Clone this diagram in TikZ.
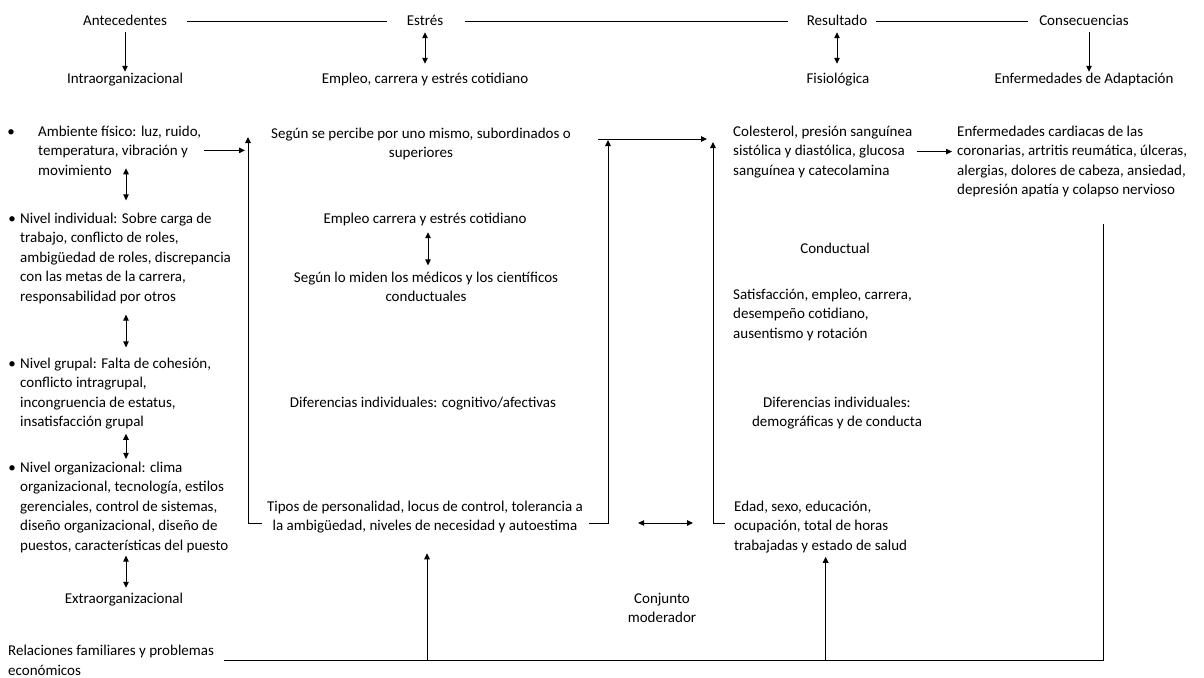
\documentclass[tikz,border=0pt]{standalone}
\usepackage{fontspec}
\setmainfont{Carlito}
\usetikzlibrary{arrows.meta,calc}
\begin{document}
\begin{tikzpicture}[x=1pt,y=-1pt,
  every node/.style={font=\fontsize{15}{19.5}\selectfont, inner sep=0pt},
  lt/.style={align=left, anchor=base west},
  ct/.style={align=center, anchor=base},
  one/.style={text height=11pt, text depth=3pt},
  ln/.style={line width=1pt, draw=black},
  arr/.style={ln, -{Triangle[length=6pt,width=5.5pt]}},
  darr/.style={ln, {Triangle[length=6pt,width=5.5pt]}-{Triangle[length=6pt,width=5.5pt]}},
  bul/.style={anchor=base}
]
\useasboundingbox (0,0) rectangle (1204,677);
\fill[white] (0,0) rectangle (1204,677);

% top row
\node[ct,one] (ante)   at (125,26)  {Antecedentes};
\node[ct,one] (estres) at (425,26)  {Estrés};
\node[ct,one] (result) at (837,26)  {Resultado};
\node[ct,one] (conse)  at (1084,26) {Consecuencias};
% second row
\node[ct,one] (intra)  at (125,83)  {Intraorganizacional};
\node[ct,one] (empleo) at (425,83)  {Empleo, carrera y estrés cotidiano};
\node[ct,one] (fisio)  at (838,83)  {Fisiológica};
\node[ct,one] (enfad)  at (1084,83) {Enfermedades de Adaptación};

\draw[ln,shorten <=20pt,shorten >=20pt] (ante.east) -- (estres.west);
\draw[ln,shorten <=22pt,shorten >=19pt] (estres.east) -- (result.west);
\draw[ln,shorten <=9pt,shorten >=11pt] (result.east) -- (conse.west);
\draw[arr,shorten <=3pt] (ante.south) -- (ante.south |- intra.north);
\draw[darr,shorten <=3pt,shorten >=8pt] (estres.south) -- (estres.south |- empleo.north);
\draw[darr,shorten <=3pt,shorten >=8pt] (result.south) -- (result.south |- fisio.north);
\draw[arr,shorten <=3pt] ($(conse.south)+(5,0)$) -- ($(conse.south |- enfad.north)+(5,0)$);

% left column (multi-line nodes are placed by the baseline of their last line)
\coordinate (colL) at (126,0);
\node[bul] (b1) at (11,136) {•};
\node[lt] (amb) at (38,175) {Ambiente físico: luz, ruido,\\temperatura, vibración y\\movimiento};
\node[bul] (b2) at (12,223) {•};
\node[lt] (ind) at (20,301) {Nivel individual: Sobre carga de\\trabajo, conflicto de roles,\\ambigüedad de roles, discrepancia\\con las metas de la carrera,\\responsabilidad por otros};
\node[bul] (b3) at (12,368) {•};
\node[lt] (grup) at (20,426.5) {Nivel grupal: Falta de cohesión,\\conflicto intragrupal,\\incongruencia de estatus,\\insatisfacción grupal};
\node[bul] (b4) at (12,472) {•};
\node[lt] (org) at (20,550) {Nivel organizacional: clima\\organizacional, tecnología, estilos\\gerenciales, control de sistemas,\\diseño organizacional, diseño de\\puestos, características del puesto};
\node[ct,one] (extra) at (124,603) {Extraorganizacional};
\node[lt] (rel) at (8,675) {Relaciones familiares y problemas\\económicos};

\draw[darr,shorten <=-7pt,shorten >=12pt] (amb.south -| colL) -- (ind.north -| colL);
\draw[darr,shorten <=11pt,shorten >=10pt] (ind.south -| colL) -- (grup.north -| colL);
\draw[darr,shorten <=4.5pt,shorten >=2.5pt] (grup.south -| colL) -- (org.north -| colL);
\draw[darr,shorten <=3pt,shorten >=4pt] (org.south -| colL) -- (extra.north -| colL);

% middle column
\node[ct] (segun) at (421,157.5) {Según se percibe por uno mismo, subordinados o\\superiores};
\node[ct,one] (empc) at (425,223) {Empleo carrera y estrés cotidiano};
\node[ct] (miden) at (426,301.5) {Según lo miden los médicos y los científicos\\conductuales};
\node[ct,one] (difc) at (423,407) {Diferencias individuales: cognitivo/afectivas};
\node[ct] (tipos) at (425,530.5) {Tipos de personalidad, locus de control, tolerancia a\\la ambigüedad, niveles de necesidad y autoestima};
\node[ct] (conj) at (662,622.5) {Conjunto\\moderador};

\draw[darr,shorten <=6pt,shorten >=6pt] ($(empc.south)+(3,0)$) -- ($(empc.south |- miden.north)+(3,0)$);

% right column
\node[lt] (colest) at (733,175) {Colesterol, presión sanguínea\\sistólica y diastólica, glucosa\\sanguínea y catecolamina};
\node[ct,one] (conduct) at (835,253) {Conductual};
\node[lt] (satis) at (733,338) {Satisfacción, empleo, carrera,\\desempeño cotidiano,\\ausentismo y rotación};
\node[ct] (difr) at (837,426.5) {Diferencias individuales:\\demográficas y de conducta};
\node[lt] (edad) at (734,550) {Edad, sexo, educación,\\ocupación, total de horas\\trabajadas y estado de salud};
\node[lt] (enfc) at (957,194.5) {Enfermedades cardiacas de las\\coronarias, artritis reumática, úlceras,\\alergias, dolores de cabeza, ansiedad,\\depresión apatía y colapso nervioso};

% brackets and connectors
\coordinate (lbB) at (248,523);
\coordinate (lbT) at (248,137);
\coordinate (mB) at (608,523);
\coordinate (mT) at (608,140);
\coordinate (rB) at (713,523);
\coordinate (rT) at (713,142);
\coordinate (hS) at (598,139);
\coordinate (bR) at (1103,660);

\draw[arr,shorten <=3pt,shorten >=3pt] (amb.east) -- (amb.east -| lbT);
\draw[arr] ($(tipos.west |- lbB)+(-5,0)$) -- (lbB) -- (lbT);
\draw[arr] ($(tipos.east |- mB)+(6,0)$) -- (mB) -- (mT);
\draw[arr] ($(edad.west |- rB)+(-9,0)$) -- (rB) -- (rT);
\draw[arr,shorten >=26pt] (hS) -- (hS -| colest.west);
\draw[darr] ($(tipos.east |- lbB)+(55,0)$) -- ($(edad.west |- lbB)+(-41,0)$);
\draw[arr,shorten <=5pt,shorten >=5pt] (colest.east) -- (colest.east -| enfc.west);

% bottom
\draw[ln,shorten >=27pt] ($(rel.east |- bR)+(10,0)$) -- (bR) -- (bR |- enfc.south);
\draw[arr,shorten >=20pt] ($(tipos.south |- bR)+(2,0)$) -- ($(tipos.south)+(2,0)$);
\draw[arr,shorten >=4pt] ($(edad.south |- bR)+(5,0)$) -- ($(edad.south)+(5,0)$);
\end{tikzpicture}
\end{document}
